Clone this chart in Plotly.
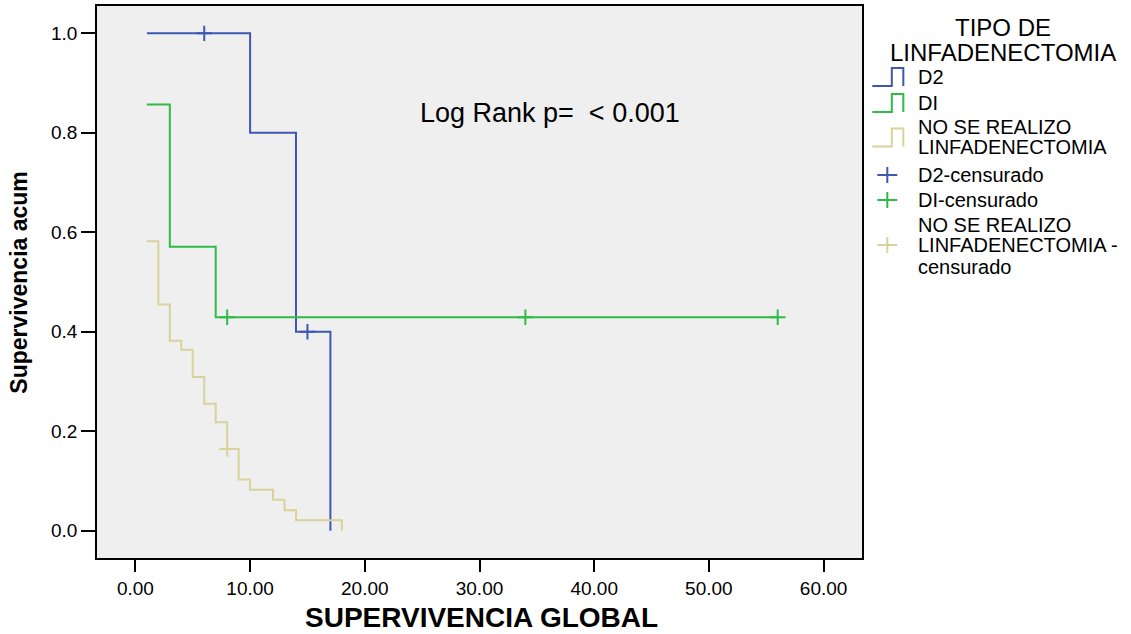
import plotly.graph_objects as go

# ---- data ----
d2_time = [1, 10, 14, 17]
d2_surv = [1.0, 0.8, 0.4, 0.0]
d2_cens_time = [6, 15]
d2_cens_surv = [1.0, 0.4]

di_time = [1, 3, 7, 56]
di_surv = [0.857, 0.571, 0.429, 0.429]
di_cens_time = [8, 34, 56]
di_cens_surv = [0.429, 0.429, 0.429]

no_time = [1, 2, 3, 4, 5, 6, 7, 8, 9, 10, 12, 13, 14, 18]
no_surv = [0.582, 0.455, 0.382, 0.364, 0.309, 0.255, 0.218, 0.164, 0.103, 0.082, 0.062, 0.041, 0.021, 0.0]
no_cens_time = [8]
no_cens_surv = [0.164]

x_ticks = [0, 10, 20, 30, 40, 50, 60]
y_ticks = [0.0, 0.2, 0.4, 0.6, 0.8, 1.0]

legend_title = ["TIPO DE", "LINFADENECTOMIA"]
legend_labels = [["D2"], ["DI"], ["NO SE REALIZO", "LINFADENECTOMIA"], ["D2-censurado"], ["DI-censurado"],
                 ["NO SE REALIZO", "LINFADENECTOMIA -", "censurado"]]

BLUE = "#3E58B2"
GREEN = "#2EBC47"
BEIGE = "#D8D29B"
FONT = "Liberation Sans, Arial, sans-serif"

fig = go.Figure()
for t, s, c in [(d2_time, d2_surv, BLUE), (di_time, di_surv, GREEN), (no_time, no_surv, BEIGE)]:
    fig.add_trace(go.Scatter(x=t, y=s, mode="lines", line=dict(color=c, width=2, shape="hv"),
                             showlegend=False, hoverinfo="skip"))
for t, s, c in [(d2_cens_time, d2_cens_surv, BLUE), (di_cens_time, di_cens_surv, GREEN),
                (no_cens_time, no_cens_surv, BEIGE)]:
    fig.add_trace(go.Scatter(x=t, y=s, mode="markers",
                             marker=dict(symbol="cross-thin", size=11, line=dict(color=c, width=2)),
                             showlegend=False, hoverinfo="skip"))

# plot area pixel geometry
L, R, T, B = 97.3, 861.7, 6, 558
W, H = 1131, 634
def px(x):
    return (x - L) / (R - L)
def py(y):
    return (B - y) / (B - T)

shapes = []
annotations = []
for line, y in zip(legend_title, [28, 52.7]):
    annotations.append(dict(x=px(1003), y=py(y), xref="paper", yref="paper", text=line,
                            showarrow=False, font=dict(family=FONT, size=24, color="black"),
                            xanchor="center", yanchor="middle"))
colors = [BLUE, GREEN, BEIGE, BLUE, GREEN, BEIGE]
label_y = [[76.7], [103], [127, 147.5], [175], [200], [224.5, 245.3, 266.5]]
icon_y = [77, 103, 137.5, 175, 200, 245]
for i, (labs, c, lys, iy) in enumerate(zip(legend_labels, colors, label_y, icon_y)):
    for lab, ly in zip(labs, lys):
        annotations.append(dict(x=px(916), y=py(ly), xref="paper", yref="paper", text=lab,
                                showarrow=False, font=dict(family=FONT, size=20, color="black"),
                                xanchor="left", yanchor="middle", align="left"))
    if i < 3:
        path = "M {a},{b} L {c},{b} L {c},{d} L {e},{d} L {e},{b}".format(
            a=px(872), b=py(iy + 9), c=px(891.5), d=py(iy - 9), e=px(903))
        shapes.append(dict(type="path", xref="paper", yref="paper", path=path,
                           line=dict(color=c, width=2)))
    else:
        shapes.append(dict(type="line", xref="paper", yref="paper", x0=px(877), x1=px(897),
                           y0=py(iy), y1=py(iy), line=dict(color=c, width=2)))
        shapes.append(dict(type="line", xref="paper", yref="paper", x0=px(887), x1=px(887),
                           y0=py(iy - 8), y1=py(iy + 8), line=dict(color=c, width=2)))

annotations.append(dict(x=px(550), y=py(113), xref="paper", yref="paper",
                        text="Log Rank p=  &lt; 0.001", showarrow=False,
                        font=dict(family=FONT, size=27, color="black"),
                        xanchor="center", yanchor="middle"))
annotations.append(dict(x=px(481.5), y=py(617), xref="paper", yref="paper",
                        text="<b>SUPERVIVENCIA GLOBAL</b>", showarrow=False,
                        font=dict(family=FONT, size=28, color="black"),
                        xanchor="center", yanchor="middle"))
annotations.append(dict(x=px(19), y=py(283), xref="paper", yref="paper",
                        text="<b>Supervivencia acum</b>", showarrow=False, textangle=-90,
                        font=dict(family=FONT, size=23, color="black"),
                        xanchor="center", yanchor="middle"))

fig.update_layout(
    width=W, height=H,
    margin=dict(l=L, r=W - R, t=T, b=H - B, pad=0, autoexpand=False),
    paper_bgcolor="white", plot_bgcolor="#EFEFEF",
    font=dict(family=FONT, color="black"),
    shapes=shapes, annotations=annotations,
    xaxis=dict(range=[-3.35, 63.35], tickvals=x_ticks, ticktext=["%.2f" % v for v in x_ticks],
               ticks="outside", ticklen=12, tickwidth=2, tickcolor="black",
               showline=True, linecolor="black", linewidth=1.5, mirror=True,
               showgrid=False, zeroline=False, tickfont=dict(size=19), automargin=False),
    yaxis=dict(range=[-0.055, 1.055], tickvals=y_ticks, ticktext=["%.1f" % v for v in y_ticks],
               ticks="outside", ticklen=14, tickwidth=2, tickcolor="black",
               showline=True, linecolor="black", linewidth=1.5, mirror=True,
               showgrid=False, zeroline=False, tickfont=dict(size=19), automargin=False),
)

fig.write_html("out.html")
